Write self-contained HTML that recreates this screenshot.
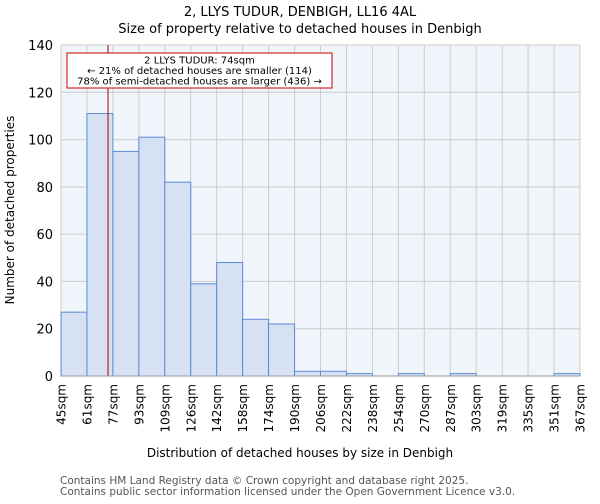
<!DOCTYPE html>
<html><head><meta charset="utf-8"><style>
body{margin:0;background:#fff;font-family:"DejaVu Sans","Liberation Sans",sans-serif;}
svg text{font-family:"DejaVu Sans","Liberation Sans",sans-serif;}
</style></head><body>
<svg id="chart" width="600" height="500" xmlns="http://www.w3.org/2000/svg">
<text x="300" y="16" text-anchor="middle" font-size="13">2, LLYS TUDUR, DENBIGH, LL16 4AL</text>
<text x="300" y="33" text-anchor="middle" font-size="13">Size of property relative to detached houses in Denbigh</text>
<rect x="61" y="45" width="519" height="331" fill="#f0f4fb"/>
<g id="grid"></g><g id="bars"></g><g id="axes"></g>
<text x="300" y="457" text-anchor="middle" font-size="12">Distribution of detached houses by size in Denbigh</text>
<text transform="translate(14,210) rotate(-90)" text-anchor="middle" font-size="12">Number of detached properties</text>
<text x="60" y="484" font-size="10.5" fill="#555">Contains HM Land Registry data © Crown copyright and database right 2025.</text>
<text x="60" y="495" font-size="10.5" fill="#555">Contains public sector information licensed under the Open Government Licence v3.0.</text>
</svg>
<script>
const binLabels=["45sqm","61sqm","77sqm","93sqm","109sqm","126sqm","142sqm","158sqm","174sqm","190sqm","206sqm","222sqm","238sqm","254sqm","270sqm","287sqm","303sqm","319sqm","335sqm","351sqm","367sqm"];
const counts=[27,111,95,101,82,39,48,24,22,2,2,1,0,1,0,1,0,0,0,1];
const yTicks=[0,20,40,60,80,100,120,140];
const markerValue=74;
const binEdges=[45,61,77,93,109,126,142,158,174,190,206,222,238,254,270,287,303,319,335,351,367];
const NS="http://www.w3.org/2000/svg";
const L=61,R=580,T=45,B=376,yMax=140;
const nb=counts.length,bw=(R-L)/nb;
const xs=i=>L+i*bw;
const ys=v=>B-v/yMax*(B-T);
function mk(tag,attrs,parent){const e=document.createElementNS(NS,tag);for(const k in attrs)e.setAttribute(k,attrs[k]);parent.appendChild(e);return e;}
const grid=document.getElementById('grid'),bars=document.getElementById('bars'),axes=document.getElementById('axes');
yTicks.forEach(t=>{
 const g=mk('line',{x1:L,x2:R,y1:ys(t),y2:ys(t),stroke:'#cccccc','stroke-width':1},grid);
 
 
 const tx=mk('text',{x:L-8,y:ys(t)+5,'text-anchor':'end','font-size':13},axes);
 tx.textContent=t;
 
 
});
binLabels.forEach((lab,i)=>{
 const x=xs(i);
 const g=mk('line',{x1:x,x2:x,y1:T,y2:B,stroke:'#cccccc','stroke-width':1},grid);
 
 
 const tx=mk('text',{transform:`translate(${x+4.5},${B+8}) rotate(-90)`,'text-anchor':'end','font-size':12},axes);
 tx.textContent=lab;
 
 
});
counts.forEach((c,i)=>{
 const r=mk('rect',{x:xs(i),y:ys(c),width:bw,height:B-ys(c),fill:'#d6e1f3',stroke:'#5b8bd6','stroke-width':1},bars);
 
 
});
let mi=0;for(let i=0;i<binEdges.length-1;i++){if(markerValue>=binEdges[i]&&markerValue<binEdges[i+1])mi=i;}
const mx=xs(mi)+(markerValue-binEdges[mi])/(binEdges[mi+1]-binEdges[mi])*bw;
const ml=mk('line',{x1:mx,x2:mx,y1:T,y2:B,stroke:'#aa0000','stroke-width':1},axes);


const box=mk('rect',{x:67,y:53,width:265,height:35,fill:'#fff',stroke:'#cc0000','stroke-width':1},axes);


["2 LLYS TUDUR: 74sqm","← 21% of detached houses are smaller (114)","78% of semi-detached houses are larger (436) →"].forEach((s,i)=>{
 const t=mk('text',{x:199.5,y:63.5+i*10.5,'text-anchor':'middle','font-size':10},axes);
 t.textContent=s;
 
 
});
const ax=mk('line',{x1:L,x2:R,y1:B,y2:B,stroke:'#999','stroke-width':1},axes);


</script>
</body></html>
